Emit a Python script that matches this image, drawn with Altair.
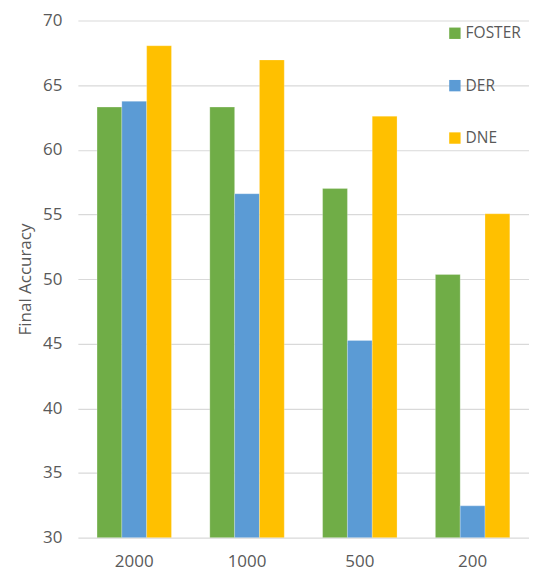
import altair as alt
import pandas as pd

categories = ["2000", "1000", "500", "200"]
series = ["FOSTER", "DER", "DNE"]
foster = [63.3, 63.3, 57.0, 50.35]
der = [63.75, 56.6, 45.25, 32.45]
dne = [68.05, 66.95, 62.6, 55.05]
colors = ["#70AD47", "#5B9BD5", "#FFC000"]

rows = []
for name, vals in zip(series, [foster, der, dne]):
    for c, v in zip(categories, vals):
        rows.append({"Budget": c, "Method": name, "Accuracy": v})
df = pd.DataFrame(rows)

font = "Open Sans"
gray = "#595959"

chart = alt.Chart(df).mark_bar(clip=True, stroke="#ffffff", strokeWidth=0.4, strokeOpacity=0.6).encode(
    x=alt.X("Budget:N", sort=categories, title=None,
            scale=alt.Scale(paddingInner=0.34, paddingOuter=0.17),
            axis=alt.Axis(labelAngle=0, domain=False, ticks=False, labelPadding=16,
                          labelFontSize=17, labelColor=gray, labelFont=font)),
    xOffset=alt.XOffset("Method:N", sort=series, scale=alt.Scale(domain=series)),
    y=alt.Y("Accuracy:Q", title="Final Accuracy",
            scale=alt.Scale(domain=[30, 70], nice=False, zero=False),
            axis=alt.Axis(values=[30, 35, 40, 45, 50, 55, 60, 65, 70], domain=False, ticks=False,
                          gridColor="#D9D9D9", gridWidth=1.2, labelPadding=16,
                          labelFontSize=17, labelColor=gray, labelFont=font,
                          titleFontSize=17, titleColor=gray, titleFont=font,
                          titleFontWeight="normal", titlePadding=8)),
    color=alt.Color("Method:N", sort=series,
                    scale=alt.Scale(domain=series, range=colors),
                    legend=alt.Legend(title=None, orient="none", legendX=370, legendY=5,
                                      symbolType="square", symbolSize=130, symbolStrokeWidth=0,
                                      labelFontSize=15.5, labelColor=gray, labelFont=font,
                                      rowPadding=35.5, labelOffset=3)),
).properties(
    width=452, height=518,
    autosize=alt.AutoSizeParams(type="none"),
    padding={"left": 70, "top": 12, "right": 0, "bottom": 40},
).configure_view(stroke=None)

chart.save("out.html", embed_options={"renderer": "svg", "actions": False})
